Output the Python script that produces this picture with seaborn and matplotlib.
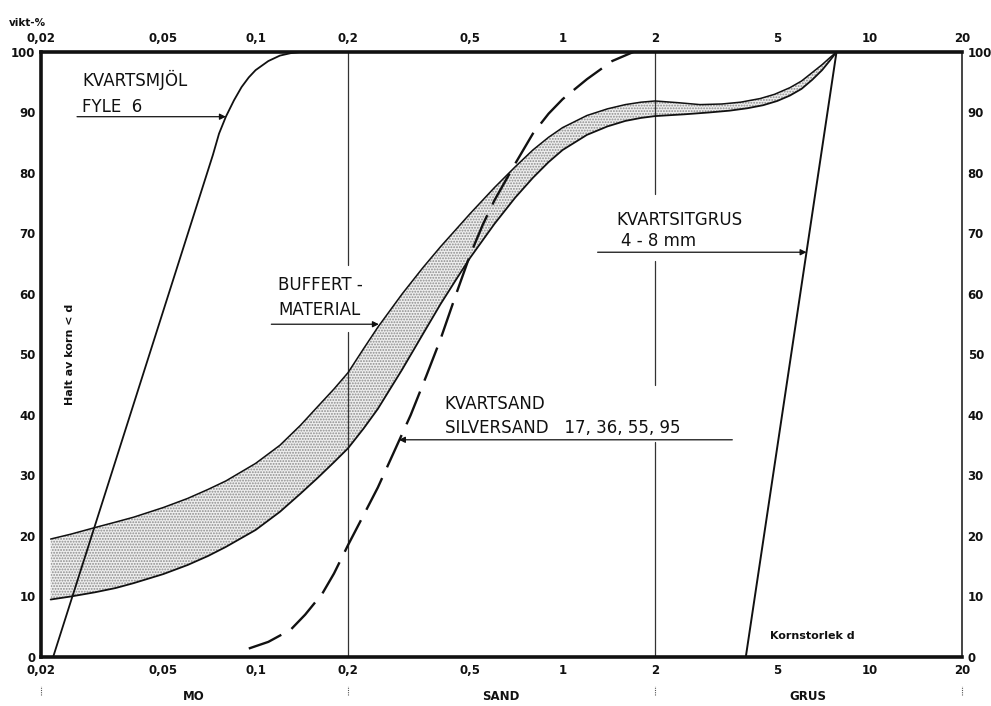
import numpy as np
import pandas as pd
import matplotlib
matplotlib.use("Agg")
import matplotlib.pyplot as plt
import seaborn as sns

# ---------------- data ----------------
# Kvartsmjöl Fyle 6
mjol_d = [0.0219, 0.0726, 0.076, 0.08, 0.085, 0.09, 0.095, 0.1, 0.11, 0.12, 0.13, 0.14]
mjol_p = [0.0, 83.0, 86.5, 89.3, 92.0, 94.2, 95.8, 97.0, 98.5, 99.4, 99.8, 100.0]

# Buffertmaterial, upper limit
buf_hi_d = [0.0215, 0.025, 0.03, 0.035, 0.04, 0.05, 0.06, 0.07, 0.08, 0.1, 0.12,
            0.14, 0.16, 0.18, 0.2, 0.225, 0.25, 0.3, 0.35, 0.4, 0.5, 0.6, 0.7,
            0.8, 0.9, 1.0, 1.2, 1.4, 1.6, 1.8, 2.0, 2.4, 2.8, 3.3, 3.8, 4.4,
            4.9, 5.5, 6.0, 6.5, 7.0, 7.4, 7.8]
buf_hi_p = [19.5, 20.3, 21.4, 22.3, 23.1, 24.7, 26.2, 27.7, 29.1, 32.0, 35.0,
            38.3, 41.5, 44.3, 47.0, 51.0, 54.5, 60.0, 64.3, 67.8, 73.3, 77.6, 81.0,
            83.8, 85.9, 87.5, 89.5, 90.6, 91.3, 91.7, 91.9, 91.6, 91.3, 91.4, 91.7, 92.3,
            93.0, 94.1, 95.2, 96.6, 97.9, 99.0, 100.0]
# Buffertmaterial, lower limit
buf_lo_d = [0.0215, 0.025, 0.03, 0.035, 0.04, 0.05, 0.06, 0.07, 0.08, 0.1, 0.12,
            0.14, 0.16, 0.18, 0.2, 0.225, 0.25, 0.3, 0.35, 0.4, 0.45, 0.5, 0.6,
            0.7, 0.8, 0.9, 1.0, 1.2, 1.4, 1.6, 1.8, 2.0, 2.5, 3.0, 3.5, 4.0,
            4.5, 5.0, 5.5, 6.0, 6.5, 7.0, 7.4, 7.8]
buf_lo_p = [9.5, 10.0, 10.7, 11.4, 12.2, 13.7, 15.2, 16.7, 18.2, 21.0, 24.0,
            27.0, 29.7, 32.2, 34.5, 37.8, 41.0, 47.5, 53.3, 58.3, 62.4, 66.0, 71.6,
            75.9, 79.2, 81.8, 83.8, 86.3, 87.7, 88.6, 89.1, 89.4, 89.7, 90.0, 90.3, 90.7,
            91.2, 91.9, 92.8, 93.9, 95.4, 97.0, 98.5, 100.0]

# Kvartsand / Silversand 17, 36, 55, 95
sand_d = [0.095, 0.11, 0.13, 0.145, 0.165, 0.18, 0.2, 0.225, 0.25, 0.28, 0.32,
          0.36, 0.4, 0.45, 0.5, 0.55, 0.6, 0.7, 0.8, 0.9, 1.0, 1.2, 1.45, 1.7]
sand_p = [1.4, 2.5, 4.5, 7.0, 10.5, 13.8, 18.5, 23.5, 28.0, 33.5, 40.0,
          46.5, 52.5, 60.0, 66.5, 71.5, 75.5, 81.5, 86.5, 89.8, 92.2, 95.5, 98.5, 100.0]

# Kvartsitgrus 4-8 mm
grus_d = [3.95, 7.8]
grus_p = [0.0, 100.0]

x_ticks = [0.02, 0.05, 0.1, 0.2, 0.5, 1, 2, 5, 10, 20]
x_ticklabels = ["0,02", "0,05", "0,1", "0,2", "0,5", "1", "2", "5", "10", "20"]
y_ticks = [0, 10, 20, 30, 40, 50, 60, 70, 80, 90, 100]

fractions = ["MO", "SAND", "GRUS"]
fraction_centres = [0.063, 0.63, 6.3]
fraction_bounds = [0.02, 0.2, 2, 20]

# ---------------- style ----------------
sns.set_theme(style="white")
plt.rcParams["font.family"] = ["DejaVu Sans"]
plt.rcParams["hatch.linewidth"] = 0.9

fig = plt.figure(figsize=(9.91, 7.06), dpi=100)
ax = fig.add_axes([0.0414, 0.0694, 0.9294, 0.857])
ax.set_xscale("log")
ax.set_xlim(0.02, 20)
ax.set_ylim(0, 100)

ink = "#111111"

# buffert band (stippled)
band_x = list(buf_hi_d) + list(buf_lo_d[::-1])
band_y = list(buf_hi_p) + list(buf_lo_p[::-1])
ax.fill(band_x, band_y, facecolor="#eeeeee", edgecolor="#8c8c8c",
        hatch="......", linewidth=0, zorder=1)

sns.lineplot(x=buf_hi_d, y=buf_hi_p, ax=ax, color=ink, linewidth=1.1,
             sort=False, estimator=None, zorder=3)
sns.lineplot(x=buf_lo_d, y=buf_lo_p, ax=ax, color=ink, linewidth=1.3,
             sort=False, estimator=None, zorder=3)
sns.lineplot(x=mjol_d, y=mjol_p, ax=ax, color=ink, linewidth=1.3,
             sort=False, estimator=None, zorder=3)
sns.lineplot(x=sand_d, y=sand_p, ax=ax, color=ink, linewidth=1.7,
             sort=False, estimator=None, linestyle=(0, (15, 5)), zorder=3)
sns.lineplot(x=grus_d, y=grus_p, ax=ax, color=ink, linewidth=1.4,
             sort=False, estimator=None, zorder=3)

# vertical fraction boundaries (broken around the labels)
for x0, segs in [(0.2, [(0, 53.7), (64.8, 100)]),
                 (2, [(0, 35.5), (45, 65.5), (76.5, 100)])]:
    for a, b in segs:
        ax.plot([x0, x0], [a, b], color="#333333", linewidth=0.9, zorder=2)

# frame
for side in ["left", "top", "bottom"]:
    ax.spines[side].set_linewidth(2.6)
    ax.spines[side].set_color(ink)
ax.spines["right"].set_linewidth(1.4)
ax.spines["right"].set_color("#444444")

# tick labels on all four sides, no tick marks
ax.set_xticks(x_ticks)
ax.set_xticklabels(x_ticklabels)
ax.minorticks_off()
ax.set_yticks(y_ticks)
ax.tick_params(axis="both", which="both", length=0, labelsize=8.5,
               top=False, right=False, labeltop=True, labelright=True,
               colors=ink)
ax.tick_params(axis="x", pad=5)
ax.tick_params(axis="y", pad=4)
for lab in ax.get_xticklabels() + ax.get_yticklabels():
    lab.set_fontweight("bold")
ax.grid(False)

# axis titles
ax.text(0.031, 50, "Halt av korn < d", rotation=90, ha="center", va="center",
        fontsize=8, fontweight="bold", transform=ax.get_yaxis_transform(), color=ink)
fig.text(0.028, 0.967, "vikt-%", ha="center", va="center", fontsize=7.5,
         fontweight="bold", color=ink)
ax.text(4.75, 3.5, "Kornstorlek d", ha="left", va="center", fontsize=8,
        fontweight="bold", color=ink)

# fraction names under the axis
xt = ax.get_xaxis_transform()
for name, xc in zip(fractions, fraction_centres):
    ax.text(xc, -0.066, name, transform=xt, ha="center", va="center",
            fontsize=8.5, fontweight="bold", color=ink)
for xb in fraction_bounds:
    ax.plot([xb, xb], [-0.062, -0.048], transform=xt, clip_on=False,
            color="#555555", linewidth=0.8, linestyle=(0, (1, 1)))

# labels with arrows
lab_kw = dict(fontsize=12, color=ink, ha="left", va="center")
arr_kw = dict(arrowstyle="-|>", color=ink, lw=0.9, mutation_scale=9,
              shrinkA=0, shrinkB=0)

ax.text(0.0272, 95.4, "KVARTSMJÖL", **lab_kw)
ax.text(0.0272, 90.9, "FYLE  6", **lab_kw)
ax.annotate("", xy=(0.08, 89.3), xytext=(0.0262, 89.3), arrowprops=arr_kw)

ax.text(0.1185, 61.5, "BUFFERT -", **lab_kw)
ax.text(0.1185, 57.4, "MATERIAL", **lab_kw)
ax.annotate("", xy=(0.252, 55.0), xytext=(0.1125, 55.0), arrowprops=arr_kw)

ax.text(0.413, 41.8, "KVARTSAND", **lab_kw)
ax.text(0.413, 37.9, "SILVERSAND   17, 36, 55, 95", **lab_kw)
ax.annotate("", xy=(0.293, 35.9), xytext=(3.57, 35.9), arrowprops=arr_kw)

ax.text(1.5, 72.2, "KVARTSITGRUS", **lab_kw)
ax.text(1.55, 68.8, "4 - 8 mm", **lab_kw)
ax.annotate("", xy=(6.23, 66.9), xytext=(1.3, 66.9), arrowprops=arr_kw)

fig.savefig("out.png", dpi=100)
